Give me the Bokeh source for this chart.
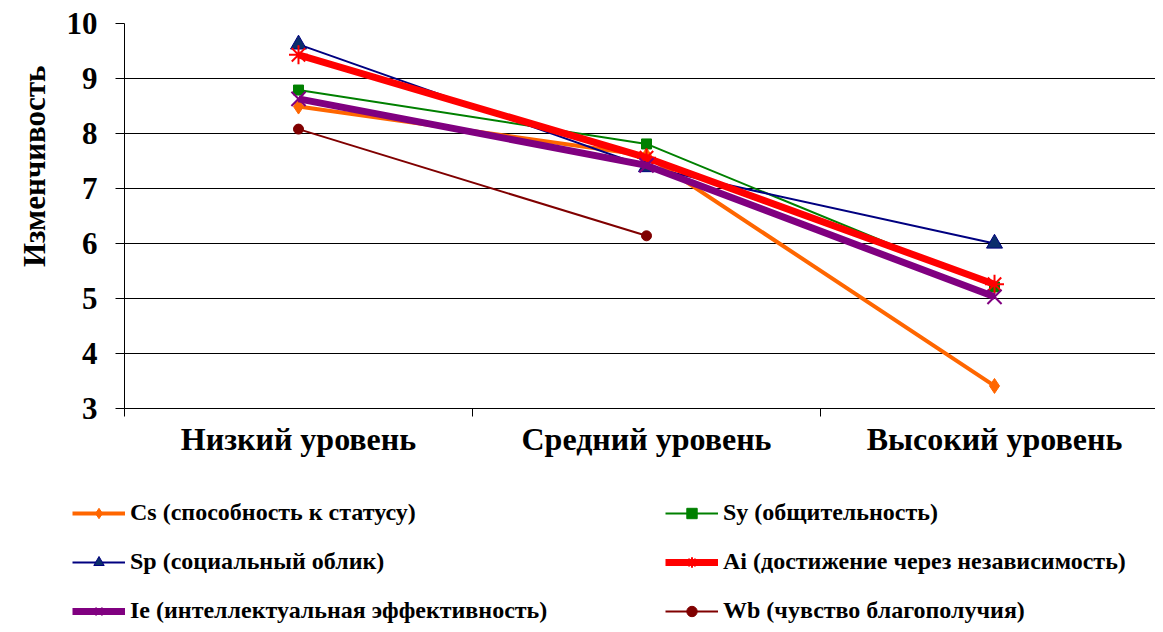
from bokeh.plotting import figure
from bokeh.layouts import column
from bokeh.models import Range1d, FixedTicker, Legend, LegendItem, Title
from bokeh.embed import file_html
from bokeh.resources import INLINE

categories = ["Низкий уровень", "Средний уровень", "Высокий уровень"]
y_ticks = [3, 4, 5, 6, 7, 8, 9, 10]

cs = [8.49, 7.60, 3.41]
sy = [8.79, 7.81, 5.21]
sp = [9.62, 7.39, 6.00]
ai = [9.43, 7.56, 5.26]
ie = [8.63, 7.42, 5.03]
wb = [8.08, 6.14, float("nan")]

series = [
    ("Cs (способность к статусу)", cs, "#FF6600", 4, "diamond", 15, "#FF6600"),
    ("Sy (общительность)", sy, "#008000", 2, "square", 10, "#008000"),
    ("Sp (социальный облик)", sp, "#000080", 2, "triangle", 16, "#0B2E6B"),
    ("Ai (достижение через независимость)", ai, "#FF0000", 7, "asterisk", 19, None),
    ("Ie (интеллектуальная эффективность)", ie, "#800080", 7, "x", 20, None),
    ("Wb (чувство благополучия)", wb, "#800000", 2, "circle", 10, "#800000"),
]

FONT = "Liberation Serif"
W = 1155
H_PLOT = 462
H_LEG = 162

p = figure(width=W, height=H_PLOT, output_backend="svg", toolbar_location=None,
           x_range=Range1d(0, 2.9626), y_range=Range1d(3, 10),
           min_border_left=124, min_border_right=0, min_border_top=23,
           min_border_bottom=54)
p.frame_align = False
p.outline_line_color = None
p.background_fill_color = "white"
p.border_fill_color = "white"

# legend-only figure below the chart
lf = figure(width=W, height=H_LEG, output_backend="svg", toolbar_location=None,
            x_range=Range1d(100, 101), y_range=Range1d(100, 101),
            x_axis_location=None, y_axis_location=None,
            min_border_left=0, min_border_right=0, min_border_top=0,
            min_border_bottom=0)
lf.frame_align = False
lf.outline_line_color = None
lf.xgrid.visible = False
lf.ygrid.visible = False

xs = [i + 0.5 for i in range(len(categories))]

def add_series(fig, vals, color, lw, marker, msize, fill):
    r_line = fig.line(xs, vals, line_color=color, line_width=lw)
    if fill is None:
        r_m = fig.scatter(xs, vals, marker=marker, size=msize, line_color=color,
                          line_width=2, fill_color=None)
    else:
        r_m = fig.scatter(xs, vals, marker=marker, size=msize, line_color=color,
                          line_width=1, fill_color=fill)
    return r_line, r_m

items = []
for name, vals, color, lw, marker, msize, fill in series:
    add_series(p, vals, color, lw, marker, msize, fill)
    rl, rm = add_series(lf, vals, color, lw, marker, msize, fill)
    items.append(LegendItem(label=name, renderers=[rl, rm]))

# x axis
p.xaxis.ticker = FixedTicker(ticks=xs, minor_ticks=list(range(len(categories) + 1)))
p.xaxis.major_label_overrides = {x: c for x, c in zip(xs, categories)}
p.xaxis.major_tick_out = 0
p.xaxis.major_tick_in = 0
p.xaxis.minor_tick_out = 8
p.xaxis.minor_tick_in = 0
p.xaxis.minor_tick_line_color = "black"
p.xaxis.axis_line_color = "black"
p.xaxis.major_label_text_font = FONT
p.xaxis.major_label_text_font_style = "bold"
p.xaxis.major_label_text_font_size = "32px"
p.xaxis.major_label_text_color = "black"
p.xaxis.major_label_standoff = 4
p.xgrid.visible = False

# y axis
p.yaxis.ticker = FixedTicker(ticks=y_ticks, minor_ticks=[])
p.yaxis.major_tick_out = 9
p.yaxis.major_tick_in = 0
p.yaxis.major_tick_line_color = "black"
p.yaxis.axis_line_color = "black"
p.yaxis.major_label_text_font = FONT
p.yaxis.major_label_text_font_style = "bold"
p.yaxis.major_label_text_font_size = "31px"
p.yaxis.major_label_text_color = "black"
p.yaxis.major_label_standoff = 18
p.ygrid.grid_line_color = "black"
p.ygrid.grid_line_width = 1
p.ygrid.grid_line_alpha = 1

ytitle = Title(text="Изменчивость", align="right", offset=42,
               text_font=FONT, text_font_style="bold", text_font_size="31px",
               text_color="black", standoff=24)
p.add_layout(ytitle, "left")

def make_legend(its, loc):
    return Legend(items=its, location=loc, orientation="vertical",
                  label_text_font=FONT, label_text_font_style="bold",
                  label_text_font_size="24px", label_text_color="black",
                  glyph_width=53, glyph_height=26, label_height=18,
                  label_standoff=5, spacing=22, padding=0, margin=0,
                  border_line_color=None, background_fill_alpha=0)

lf.add_layout(make_legend([items[0], items[2], items[4]], (72, 0)))
lf.add_layout(make_legend([items[1], items[3], items[5]], (665, 0)))

layout = column(p, lf, spacing=0)
open("out.html", "w").write(file_html(layout, INLINE))
